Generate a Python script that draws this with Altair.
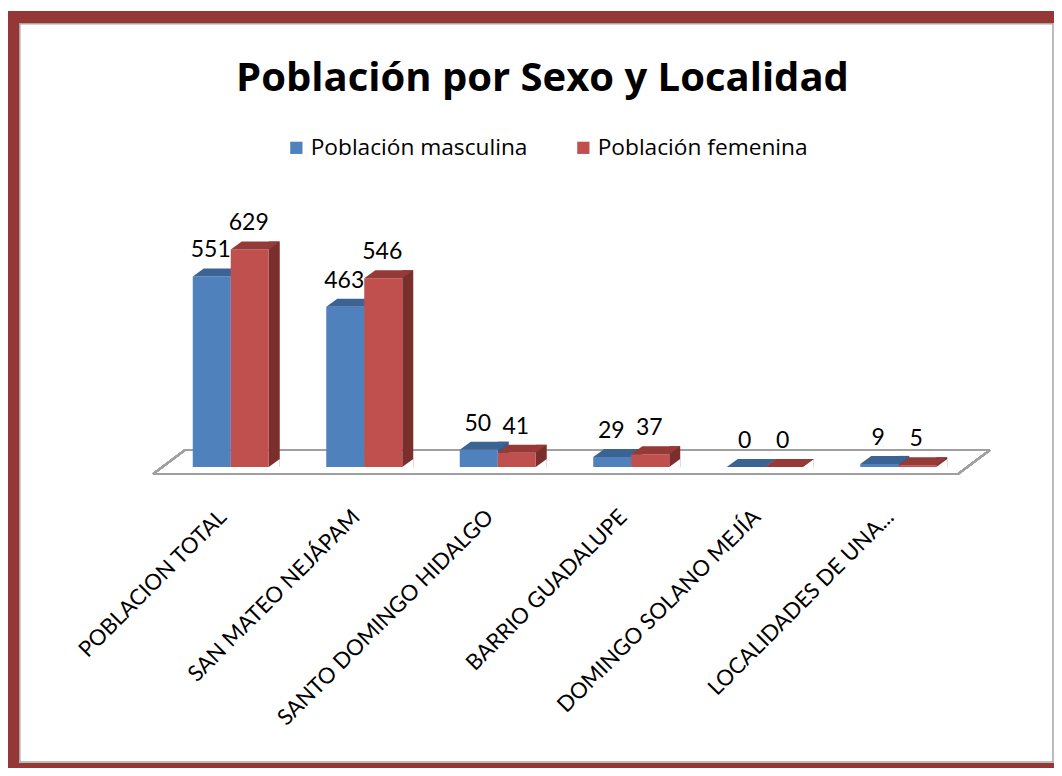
import altair as alt
import pandas as pd

# ---------------- data ----------------
localidades = [
    "POBLACION TOTAL",
    "SAN MATEO NEJÁPAM",
    "SANTO DOMINGO HIDALGO",
    "BARRIO GUADALUPE",
    "DOMINGO SOLANO MEJÍA",
    "LOCALIDADES DE UNA...",
]
masculina = [551, 463, 50, 29, 0, 9]
femenina = [629, 546, 41, 37, 0, 5]
series = ["Población masculina", "Población femenina"]
titulo = "Población por Sexo y Localidad"

rows = []
for loc, m, f in zip(localidades, masculina, femenina):
    rows.append({"Localidad": loc, "Serie": series[0], "Valor": m, "Cero": 0})
    rows.append({"Localidad": loc, "Serie": series[1], "Valor": f, "Cero": 0})
df = pd.DataFrame(rows)

# ---------------- styling ----------------
FONT = "Lato"
FONT2 = "Open Sans"
front_col = ["#4F81BD", "#C0504D"]
side_col = ["#385D8A", "#7B2F2D"]
top_col = ["#3B6494", "#953A37"]
BAR_W = 38
DX, DY = 11, 8
bar_off = [-BAR_W / 2, BAR_W / 2]

X = alt.X(
    "Localidad:N",
    sort=localidades,
    scale=alt.Scale(paddingInner=0.5, paddingOuter=0.25),
    axis=alt.Axis(
        title=None, labelAngle=-45, labelAlign="right", labelBaseline="middle",
        labelFont=FONT, labelFontSize=22, labelColor="#000000", labelPadding=46,
        labelOffset=-8, ticks=False, domain=False, grid=False, labelLimit=400,
    ),
)
Y = alt.Y("Valor:Q", stack=None, scale=alt.Scale(domain=[0, 772], nice=False), axis=None)
Y0 = alt.Y("Cero:Q", axis=None)

base = alt.Chart(df)

# frame around the chart
frame_df = pd.DataFrame({"k": [0]})
frame = alt.Chart(frame_df).mark_rect(
    filled=False, stroke="#953735", strokeWidth=12
).encode(
    x=alt.value(-151), x2=alt.value(896), y=alt.value(-183), y2=alt.value(569)
)
frame_inner = alt.Chart(frame_df).mark_rect(
    filled=False, stroke="#A6A6A6", strokeWidth=1.5
).encode(
    x=alt.value(-144.2), x2=alt.value(889), y=alt.value(-176.2), y2=alt.value(562)
)

# 3D floor outline anchored at the zero of the value scale
floor_style = dict(color="#A0A0A0", strokeWidth=1.8)
floor_front = base.mark_rule(yOffset=7, **floor_style).encode(
    x=alt.value(-11), x2=alt.value(794), y=Y0
)
floor_back = base.mark_rule(yOffset=-17, **floor_style).encode(
    x=alt.value(21), x2=alt.value(826), y=Y0
)
floor_left = base.mark_rule(yOffset=7, y2Offset=-17, **floor_style).encode(
    x=alt.value(-11), x2=alt.value(21), y=Y0, y2="Cero:Q"
)
floor_right = base.mark_rule(yOffset=7, y2Offset=-17, **floor_style).encode(
    x=alt.value(794), x2=alt.value(826), y=Y0, y2="Cero:Q"
)

layers = []
for i, s in enumerate(series):
    sub = base.transform_filter(alt.datum.Serie == s)
    off = bar_off[i]
    side = sub.mark_bar(
        width=DX, xOffset=off + BAR_W / 2 + DX / 2, yOffset=-DY, color=side_col[i]
    ).encode(x=X, y=Y, y2="Cero:Q")
    white_tri = sub.mark_point(
        shape=f"M 0 0 L {DX} 0 L {DX} {-DY} Z", size=4, filled=True,
        opacity=1, strokeWidth=0, color="#FFFFFF", xOffset=off + BAR_W / 2,
    ).encode(x=X, y=Y0)
    front = sub.mark_bar(width=BAR_W, xOffset=off).encode(
        x=X, y=Y,
        color=alt.Color(
            "Serie:N",
            scale=alt.Scale(domain=series, range=front_col),
            legend=alt.Legend(
                title=None, orient="none", direction="horizontal",
                legendX=121, legendY=-64, labelFont=FONT2, labelFontSize=22.7,
                labelColor="#000000", symbolType="square", symbolSize=150,
                symbolStrokeWidth=0, labelOffset=3, columnPadding=44, padding=0,
                labelLimit=400,
            ),
        ),
    )
    hw = BAR_W / 2
    top = sub.mark_point(
        shape=f"M {-hw} 0 L {hw} 0 L {hw + DX} {-DY} L {-hw + DX} {-DY} Z",
        size=4, filled=True, opacity=1, strokeWidth=0, color=top_col[i], xOffset=off,
    ).encode(x=X, y=Y)
    layers += [side, white_tri, front, top]

labels = []
for i, s in enumerate(series):
    sub = base.transform_filter(alt.datum.Serie == s)
    labels.append(
        sub.mark_text(
            font=FONT, fontSize=23, color="#000000", baseline="alphabetic",
            align="center", dy=-19, xOffset=bar_off[i] - 1,
        ).encode(x=X, y=Y, text=alt.Text("Valor:Q"))
    )

chart = alt.layer(
    frame, frame_inner, floor_back, floor_left, floor_right, floor_front,
    *layers, *labels,
).properties(
    width=801,
    height=267,
    padding={"left": 156, "top": 192, "right": 89, "bottom": 301},
    autosize=alt.AutoSizeParams(type="none"),
    background="#FFFFFF",
    title=alt.Title(
        titulo, font=FONT2, fontSize=40, fontWeight="bold", color="#000000",
        anchor="middle", dx=-22, offset=0, dy=120, baseline="alphabetic",
    ),
).configure_view(strokeWidth=0)

chart.save("out.html", embed_options={"renderer": "svg", "actions": False})
